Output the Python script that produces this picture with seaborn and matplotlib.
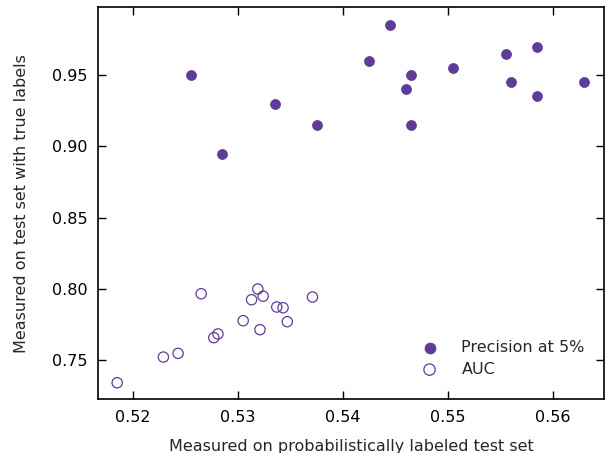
import matplotlib
matplotlib.use('Agg')
import matplotlib.pyplot as plt
import seaborn as sns

# Precision at 5% (filled)
prec_x = [0.5255, 0.5285, 0.5335, 0.5375, 0.5445, 0.5425, 0.5465, 0.5460,
          0.5465, 0.5505, 0.5555, 0.5560, 0.5585, 0.5585, 0.5630]
prec_y = [0.950, 0.895, 0.930, 0.915, 0.985, 0.960, 0.950, 0.940,
          0.915, 0.955, 0.965, 0.945, 0.970, 0.935, 0.945]

# AUC (open)
auc_x = [0.5185, 0.5229, 0.5243, 0.5265, 0.5277, 0.5281, 0.5305, 0.5313,
         0.5319, 0.5324, 0.5321, 0.5337, 0.5343, 0.5347, 0.5371]
auc_y = [0.7343, 0.7523, 0.7549, 0.7967, 0.7659, 0.7685, 0.7778, 0.7925,
         0.8000, 0.7950, 0.7715, 0.7874, 0.7869, 0.7771, 0.7944]

purple = '#5e3c99'

sns.set_style('ticks')
plt.rcParams['font.family'] = ['DejaVu Sans']

fig = plt.figure(figsize=(6.06, 4.53), dpi=100)
ax = fig.add_axes([0.1622, 0.1192, 0.835, 0.8647])

sns.scatterplot(x=prec_x, y=prec_y, ax=ax, color=purple, s=52,
                edgecolor=purple, linewidth=0.5, label='Precision at 5%')
sns.scatterplot(x=auc_x, y=auc_y, ax=ax, facecolor='none', s=55,
                edgecolor=purple, linewidth=0.9, label='AUC')

ax.set_xlim(0.5167, 0.5649)
ax.set_ylim(0.7229, 0.9975)
ax.set_xticks([0.52, 0.53, 0.54, 0.55, 0.56])
ax.set_yticks([0.75, 0.80, 0.85, 0.90, 0.95])
ax.set_xticklabels(['0.52', '0.53', '0.54', '0.55', '0.56'])
ax.set_yticklabels(['0.75', '0.80', '0.85', '0.90', '0.95'])
ax.tick_params(direction='in', length=6, width=1, top=True, right=True,
               labelsize=11.5, colors='black', pad=8)
for sp in ax.spines.values():
    sp.set_visible(True)
    sp.set_linewidth(1.2)
    sp.set_color('black')

ax.set_xlabel('Measured on probabilistically labeled test set', fontsize=11.5, labelpad=10)
ax.set_ylabel('Measured on test set with true labels', fontsize=11.5, labelpad=16)

ax.legend(loc='lower right', bbox_to_anchor=(0.99, 0.02), frameon=False,
          fontsize=11.5, handletextpad=1.0, labelspacing=0.4, markerscale=1.1)

fig.savefig('out.png', dpi=100)
